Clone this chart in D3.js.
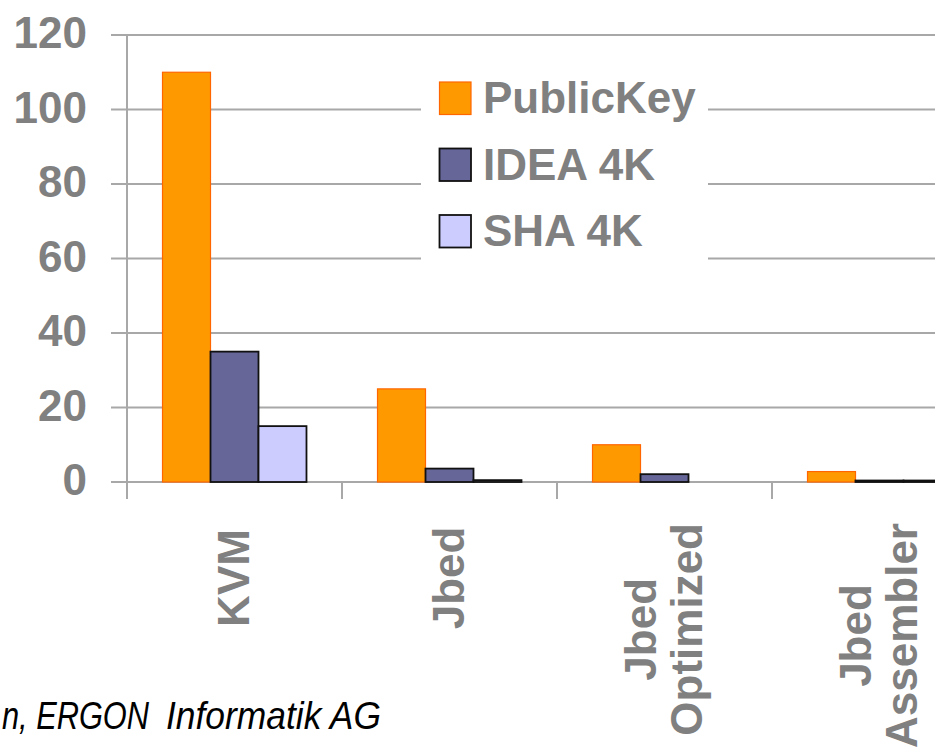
<!DOCTYPE html>
<html><head><meta charset="utf-8">
<script src="https://cdn.jsdelivr.net/npm/d3@7"></script>
<style>
html,body{margin:0;padding:0;background:#fff;}
svg{display:block;overflow:hidden;}
text{font-family:"Liberation Sans",Arial,Helvetica,sans-serif;}
</style></head>
<body>
<svg id="chart" width="935" height="749"></svg>
<script>
const categories = [["KVM"], ["Jbed"], ["Jbed", "Optimized"], ["Jbed", "Assembler"]];
const categoryKeys = ["KVM", "Jbed", "Jbed Optimized", "Jbed Assembler"];
const seriesNames = ["PublicKey", "IDEA 4K", "SHA 4K"];
const publicKey = [110, 25, 10, 2.8];
const idea4k = [35, 3.6, 2.1, 0.4];
const sha4k = [15, 0.5, 0, 0.4];
const yTicks = [0, 20, 40, 60, 80, 100, 120];
const footerParts = ["n, ERGON", "Informatik AG"];

const seriesValues = [publicKey, idea4k, sha4k];
const fills = ["#FF9900", "#666699", "#CCCCFF"];
const strokes = ["#FF6600", "#111111", "#111111"];

const svg = d3.select("#chart");
const gray = "#808080";
const gridCol = "#a8a8a8";

const y = d3.scaleLinear().domain([0, 120]).range([482, 35]);
const x0 = d3.scaleBand().domain(categoryKeys).range([127, 987]).padding(0);
const x1 = d3.scaleBand().domain(seriesNames).range([0, x0.bandwidth()]).paddingInner(0).paddingOuter(0.74);

// gridlines
svg.append("g").selectAll("line").data(yTicks).join("line")
  .attr("x1", 111).attr("x2", 935)
  .attr("y1", d => y(d)).attr("y2", d => y(d))
  .attr("stroke", gridCol).attr("stroke-width", 2);

// y axis line
svg.append("line").attr("x1", 127).attr("x2", 127).attr("y1", y(120)).attr("y2", 499)
  .attr("stroke", gridCol).attr("stroke-width", 2);

// category tick marks
svg.append("g").selectAll("line").data(categoryKeys.slice(1)).join("line")
  .attr("x1", d => x0(d)).attr("x2", d => x0(d))
  .attr("y1", y(0)).attr("y2", 499)
  .attr("stroke", gridCol).attr("stroke-width", 2);

// y tick labels
svg.append("g").selectAll("text").data(yTicks).join("text")
  .attr("x", 87).attr("y", d => y(d) + 13)
  .attr("text-anchor", "end")
  .attr("font-size", 44).attr("font-weight", "bold").attr("fill", gray)
  .text(d => d);

// bars
const rows = [];
categoryKeys.forEach((c, i) => {
  seriesNames.forEach((s, j) => {
    rows.push({c, s, j, v: seriesValues[j][i]});
  });
});
svg.append("g").selectAll("rect").data(rows.filter(d => d.v > 0)).join("rect")
  .attr("x", d => x0(d.c) + x1(d.s))
  .attr("width", x1.bandwidth())
  .attr("y", d => y(d.v))
  .attr("height", d => y(0) - y(d.v))
  .attr("fill", d => fills[d.j])
  .attr("stroke", d => strokes[d.j])
  .attr("stroke-width", d => d.j === 0 ? 1.2 : 1.8);

// legend
const lg = svg.append("g");
lg.append("rect").attr("x", 421).attr("y", 62).attr("width", 287).attr("height", 215).attr("fill", "#fff");
seriesNames.forEach((s, j) => {
  const ry = 82 + j * 66.5;
  lg.append("rect").attr("x", 439.5).attr("y", ry).attr("width", 31.5).attr("height", 32.5)
    .attr("fill", fills[j]).attr("stroke", strokes[j]).attr("stroke-width", j === 0 ? 1.2 : 1.8);
  lg.append("text").attr("x", 483).attr("y", ry + 31)
    .attr("font-size", 44).attr("font-weight", "bold").attr("fill", gray)
    .text(s);
});

// category labels (rotated)
const lineH = 46;
categoryKeys.forEach((c, i) => {
  const lines = categories[i];
  const cx = x0(c) + x0.bandwidth() / 2;
  const g = svg.append("g");
  const texts = lines.map((ln, k) => {
    const bx = cx + (k - (lines.length - 1) / 2) * lineH + 14;
    return g.append("text")
      .attr("font-size", 44).attr("font-weight", "bold").attr("fill", gray)
      .attr("text-anchor", "middle")
      .attr("data-bx", bx)
      .text(ln);
  });
  const maxLen = d3.max(texts, t => t.node().getComputedTextLength());
  const cy = lines.length === 1 ? 578 : 523 + maxLen / 2;
  texts.forEach(t => {
    const bx = +t.attr("data-bx");
    t.attr("transform", `translate(${bx},${cy}) rotate(-90)`);
  });
});

// footer text
const ft = svg.append("text").attr("y", 729)
  .attr("font-size", 38).attr("font-style", "italic").attr("fill", "#000");
ft.append("tspan").attr("x", 2).attr("textLength", 147).attr("lengthAdjust", "spacingAndGlyphs").text(footerParts[0]);
ft.append("tspan").text(" ");
ft.append("tspan").attr("x", 166).attr("textLength", 215).attr("lengthAdjust", "spacingAndGlyphs").text(footerParts[1]);
</script>
</body></html>
